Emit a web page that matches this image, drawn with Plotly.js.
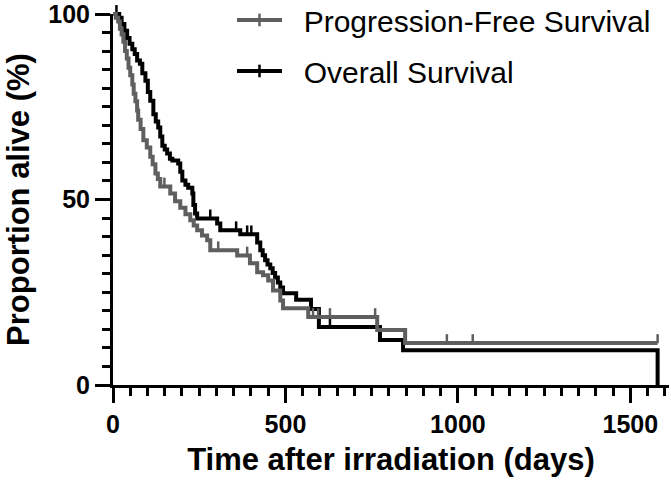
<!DOCTYPE html>
<html>
<head>
<meta charset="utf-8">
<script src="https://cdn.plot.ly/plotly-3.0.1.min.js"></script>
<style>
  html, body { margin: 0; padding: 0; background: #fff; }
  #chart { width: 671px; height: 488px; }
</style>
</head>
<body>
<div id="chart"></div>
<script>
// Kaplan-Meier steps: day of each event and survival (%) after it
var pfsDays = [0, 8, 15, 20, 25, 30, 35, 40, 45, 50, 56, 60, 65, 70, 73, 80, 88, 98, 108, 115, 123, 130, 137,
               166, 180, 195, 210, 224, 234, 244, 258, 273, 282, 360, 397, 418, 435, 450, 464, 485, 493,
               566, 766, 847, 1579];
var pfsPct  = [100, 99, 98, 96, 94.5, 92.5, 90, 88, 85.5, 83.5, 81, 78.5, 76.5, 74, 71.5, 69, 66, 64, 61.5, 59.5, 57, 55.5, 53.5,
               51.6, 49.5, 47.8, 46, 44.4, 43, 41.7, 40.3, 39, 36.3, 34.9, 32.8, 30.4, 29.6, 28.2, 25.5, 22.8, 20.7,
               18.3, 14.8, 11.3, 11.3];
var pfsCensored = [149, 305, 389, 580, 595, 629, 760, 968, 1043, 1579];

var osDays = [0, 18, 25, 33, 41, 48, 56, 63, 70, 78, 85, 94, 101, 108, 117, 124, 131, 137, 143, 150, 157, 165, 172,
              189, 195, 201, 210, 218, 230, 233, 238, 244, 302, 311, 369, 418, 427, 434, 441, 448, 456, 463, 470,
              478, 485, 493, 531, 574, 597, 774, 841, 1579];
var osPct  = [100, 99, 97.3, 95.5, 93.5, 92, 90.5, 89.2, 87.5, 86.6, 84, 82, 79, 76.6, 73, 71, 69.4, 67, 64.5, 63.5, 62.4, 61, 60.5,
              59.7, 57.5, 55.1, 54, 53.2, 51.6, 48.5, 46.2, 44.9, 43.5, 41.7, 40.6, 38.4, 36.3, 35, 33.6, 32.5, 31.5, 30.2, 29,
              27.6, 26.3, 24.7, 23, 20.5, 15.6, 12.1, 9.4, 0];
var osCensored = [10, 282, 357, 389, 401, 629];

var seriesNames = ['Progression-Free Survival', 'Overall Survival'];

var GREY = '#5f5f5f';
var BLACK = '#000000';

// survival level at time t, read from the step arrays
function levelAt(days, pct, t) {
    var v = pct[0];
    for (var i = 0; i < days.length; i++) {
        if (days[i] <= t) v = pct[i];
    }
    return v;
}

function censorTrace(days, pct, cens, color) {
    return {
        x: cens,
        y: cens.map(function (t) { return levelAt(days, pct, t); }),
        yaxis: 'y2',
        type: 'scatter',
        mode: 'markers',
        marker: { size: 0.1, color: color },
        error_y: { type: 'constant', symmetric: false, value: 2.4, valueminus: 0, width: 0, thickness: 2.5, color: color },
        showlegend: false,
        hoverinfo: 'skip'
    };
}

var osLine = {
    x: osDays, y: osPct, yaxis: 'y2',
    type: 'scatter', mode: 'lines',
    line: { shape: 'hv', color: BLACK, width: 4 },
    showlegend: false
};
var pfsLine = {
    x: pfsDays, y: pfsPct, yaxis: 'y2',
    type: 'scatter', mode: 'lines',
    line: { shape: 'hv', color: GREY, width: 4 },
    showlegend: false
};

// legend entries only (nbsp keeps a gap between the symbol and the text)
var legendPfs = {
    x: [null], y: [null], type: 'scatter', mode: 'lines+markers', name: '\u00a0\u00a0' + seriesNames[0],
    legendgroup: 'a',
    line: { color: GREY, width: 4 },
    marker: { symbol: 'line-ns-open', size: 9, line: { color: GREY, width: 2.5 } }
};
var legendOs = {
    x: [null], y: [null], type: 'scatter', mode: 'lines+markers', name: '\u00a0\u00a0' + seriesNames[1],
    legendgroup: 'b',
    line: { color: BLACK, width: 4 },
    marker: { symbol: 'line-ns-open', size: 9, line: { color: BLACK, width: 2.5 } }
};

var data = [legendPfs, legendOs, osLine, censorTrace(osDays, osPct, osCensored, BLACK),
            pfsLine, censorTrace(pfsDays, pfsPct, pfsCensored, GREY)];

var FAMILY = 'Liberation Sans, Arial, sans-serif';
var tickFont = { family: FAMILY, size: 25, color: '#000', weight: 'bold' };
var titleFont = { family: FAMILY, size: 31, color: '#000', weight: 'bold' };

var topFrac = (385 - 14) / 383;

var layout = {
    width: 671,
    height: 488,
    paper_bgcolor: '#ffffff',
    plot_bgcolor: '#ffffff',
    margin: { l: 113, r: 2, t: 2, b: 103, autoexpand: false },
    showlegend: true,
    legend: {
        x: 0.214, y: 1.021, xanchor: 'left', yanchor: 'top',
        font: { family: FAMILY, size: 30, color: '#000' },
        bgcolor: 'rgba(0,0,0,0)',
        tracegroupgap: 9,
        itemwidth: 45
    },
    xaxis: {
        range: [0, 1612],
        tickmode: 'linear', tick0: 0, dtick: 500,
        ticks: 'outside', ticklen: 15, tickwidth: 3, tickcolor: '#000',
        showline: true, linewidth: 3, linecolor: '#000',
        showgrid: false, zeroline: false,
        tickfont: tickFont,
        ticklabeloverflow: 'allow',
        minor: { tickmode: 'linear', tick0: 0, dtick: 50, ticks: 'outside', ticklen: 8, tickwidth: 3, tickcolor: '#000', showgrid: false },
        title: { text: 'Time after irradiation (days)', font: titleFont, standoff: 12 },
        fixedrange: true
    },
    yaxis: {
        domain: [0, topFrac],
        range: [0, 100],
        tickmode: 'linear', tick0: 0, dtick: 50,
        ticks: 'outside', ticklen: 15, tickwidth: 3, tickcolor: '#000',
        showline: true, linewidth: 3, linecolor: '#000',
        showgrid: false, zeroline: false,
        tickfont: tickFont,
        ticklabeloverflow: 'allow',
        minor: { tickmode: 'linear', tick0: 0, dtick: 5, ticks: 'outside', ticklen: 8, tickwidth: 3, tickcolor: '#000', showgrid: false },
        title: { text: 'Proportion alive (%)', font: titleFont, standoff: 10 },
        fixedrange: true
    },
    // same scale as yaxis, taller area so steps at 100% are not clipped
    yaxis2: {
        domain: [0, 1],
        range: [0, 100 / topFrac],
        anchor: 'x',
        visible: false,
        fixedrange: true
    }
};

Plotly.newPlot('chart', data, layout, { displayModeBar: false, staticPlot: true });
</script>
</body>
</html>
